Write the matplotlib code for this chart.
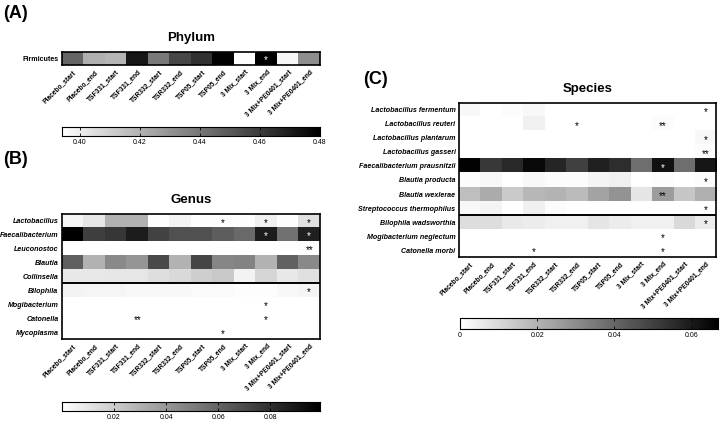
import numpy as np
import matplotlib
matplotlib.use('Agg')
import matplotlib.pyplot as plt
from matplotlib.colors import LinearSegmentedColormap

plt.rcParams['font.family'] = ['Liberation Sans', 'DejaVu Sans']

# ====================================================================
# data
samples = ['Placebo_start', 'Placebo_end', 'TSF331_start', 'TSF331_end',
           'TSR332_start', 'TSR332_end', 'TSP05_start', 'TSP05_end',
           '3 Mix_start', '3 Mix_end', '3 Mix+PE0401_start', '3 Mix+PE0401_end']

phylum_names = ['Firmicutes']
phylum_vals = [[0.446, 0.421, 0.419, 0.472, 0.439, 0.456, 0.463, 0.479,
                0.395, 0.480, 0.397, 0.432]]
phylum_stars = [['', '', '', '', '', '', '', '', '', '*', '', '']]

genus_names = ['Lactobacillus', 'Faecalibacterium', 'Leuconostoc', 'Blautia',
               'Collinsella', 'Bilophila', 'Mogibacterium', 'Catonella', 'Mycoplasma']
genus_vals = [
    [0.004, 0.010, 0.030, 0.030, 0.001, 0.005, 0.001, 0.001, 0.001, 0.006, 0.001, 0.012],
    [0.099, 0.075, 0.078, 0.088, 0.073, 0.068, 0.068, 0.063, 0.058, 0.088, 0.055, 0.086],
    [0.000, 0.000, 0.000, 0.000, 0.000, 0.000, 0.000, 0.000, 0.000, 0.000, 0.000, 0.001],
    [0.062, 0.030, 0.046, 0.041, 0.070, 0.030, 0.072, 0.047, 0.048, 0.030, 0.061, 0.046],
    [0.009, 0.009, 0.010, 0.010, 0.013, 0.015, 0.019, 0.021, 0.005, 0.016, 0.009, 0.012],
    [0.005, 0.004, 0.004, 0.003, 0.003, 0.003, 0.002, 0.002, 0.001, 0.001, 0.003, 0.004],
    [0.000, 0.000, 0.000, 0.000, 0.000, 0.000, 0.000, 0.000, 0.000, 0.000, 0.000, 0.000],
    [0.000, 0.000, 0.000, 0.000, 0.000, 0.000, 0.000, 0.000, 0.000, 0.000, 0.000, 0.000],
    [0.000, 0.000, 0.000, 0.000, 0.000, 0.000, 0.000, 0.000, 0.000, 0.000, 0.000, 0.000],
]
genus_stars = [
    ['', '', '', '', '', '', '', '*', '', '*', '', '*'],
    ['', '', '', '', '', '', '', '', '', '*', '', '*'],
    ['', '', '', '', '', '', '', '', '', '', '', '**'],
    ['', '', '', '', '', '', '', '', '', '', '', ''],
    ['', '', '', '', '', '', '', '', '', '', '', ''],
    ['', '', '', '', '', '', '', '', '', '', '', '*'],
    ['', '', '', '', '', '', '', '', '', '*', '', ''],
    ['', '', '', '**', '', '', '', '', '', '*', '', ''],
    ['', '', '', '', '', '', '', '*', '', '', '', ''],
]

species_names = ['Lactobacillus fermentum', 'Lactobacillus reuteri',
                 'Lactobacillus plantarum', 'Lactobacillus gasseri',
                 'Faecalibacterium prausnitzii', 'Blautia producta',
                 'Blautia wexlerae', 'Streptococcus thermophilus',
                 'Bilophila wadsworthia', 'Mogibacterium neglectum', 'Catonella morbi']
species_vals = [
    [0.002, 0.000, 0.001, 0.002, 0.000, 0.000, 0.000, 0.000, 0.000, 0.000, 0.000, 0.000],
    [0.000, 0.000, 0.000, 0.004, 0.000, 0.000, 0.000, 0.000, 0.000, 0.001, 0.000, 0.000],
    [0.000, 0.000, 0.000, 0.000, 0.000, 0.000, 0.000, 0.000, 0.000, 0.000, 0.000, 0.002],
    [0.000, 0.000, 0.000, 0.000, 0.000, 0.000, 0.000, 0.000, 0.000, 0.000, 0.000, 0.001],
    [0.066, 0.052, 0.056, 0.064, 0.057, 0.050, 0.058, 0.055, 0.038, 0.062, 0.038, 0.061],
    [0.001, 0.002, 0.000, 0.002, 0.001, 0.001, 0.003, 0.004, 0.000, 0.001, 0.000, 0.001],
    [0.017, 0.022, 0.014, 0.019, 0.020, 0.018, 0.024, 0.028, 0.007, 0.026, 0.015, 0.021],
    [0.002, 0.003, 0.000, 0.004, 0.001, 0.000, 0.000, 0.000, 0.000, 0.000, 0.000, 0.000],
    [0.009, 0.009, 0.006, 0.005, 0.004, 0.004, 0.007, 0.005, 0.004, 0.004, 0.010, 0.005],
    [0.000, 0.000, 0.000, 0.000, 0.000, 0.000, 0.000, 0.000, 0.000, 0.000, 0.000, 0.000],
    [0.000, 0.000, 0.000, 0.000, 0.000, 0.000, 0.000, 0.000, 0.000, 0.000, 0.000, 0.000],
]
species_stars = [
    ['', '', '', '', '', '', '', '', '', '', '', '*'],
    ['', '', '', '', '', '*', '', '', '', '**', '', ''],
    ['', '', '', '', '', '', '', '', '', '', '', '*'],
    ['', '', '', '', '', '', '', '', '', '', '', '**'],
    ['', '', '', '', '', '', '', '', '', '*', '', ''],
    ['', '', '', '', '', '', '', '', '', '', '', '*'],
    ['', '', '', '', '', '', '', '', '', '**', '', ''],
    ['', '', '', '', '', '', '', '', '', '', '', '*'],
    ['', '', '', '', '', '', '', '', '', '', '', '*'],
    ['', '', '', '', '', '', '', '', '', '*', '', ''],
    ['', '', '', '*', '', '', '', '', '', '*', '', ''],
]
# ====================================================================

W, H = 720, 423
fig = plt.figure(figsize=(W / 100, H / 100), dpi=100)
cmap = LinearSegmentedColormap.from_list('wk', ['#ffffff', '#000000'])


def box(x0, y0, x1, y1):
    # pixel box (top-left origin) -> figure fraction
    return [x0 / W, 1 - y1 / H, (x1 - x0) / W, (y1 - y0) / H]


def heatmap(rect, vals, names, stars, vmin, vmax, title, split=None, italic=True):
    ax = fig.add_axes(box(*rect))
    data = np.array(vals)
    ax.imshow(data, cmap=cmap, vmin=vmin, vmax=vmax, aspect='auto',
              interpolation='nearest')
    nr, nc = data.shape
    for i in range(nr):
        for j in range(nc):
            if stars[i][j]:
                frac = (data[i, j] - vmin) / (vmax - vmin)
                c = 'white' if frac > 0.7 else 'black'
                ax.text(j, i + 0.12, stars[i][j], ha='center', va='center',
                        fontsize=7, color=c)
    if split is not None:
        ax.axhline(split - 0.5, color='black', lw=1.4)
    ax.set_xticks(range(nc))
    ax.set_xticklabels(samples, rotation=45, ha='right', rotation_mode='anchor',
                       fontsize=4.8, fontweight='bold')
    ax.set_yticks(range(nr))
    ax.set_yticklabels(names, fontsize=5.1, fontweight='bold',
                       fontstyle='italic' if italic else 'normal')
    ax.tick_params(length=0, pad=2.5)
    for s in ax.spines.values():
        s.set_linewidth(1.2)
    ax.set_title(title, fontsize=9.5, fontweight='bold', pad=8)
    return ax


def colorbar(rect, vmin, vmax, ticks, labels):
    cax = fig.add_axes(box(*rect))
    grad = np.linspace(vmin, vmax, 256).reshape(1, -1)
    cax.imshow(grad, cmap=cmap, vmin=vmin, vmax=vmax, aspect='auto',
               extent=[vmin, vmax, 0, 1])
    cax.set_xlim(vmin, vmax)
    cax.set_yticks([])
    cax.set_xticks(ticks)
    cax.set_xticklabels(labels, fontsize=5)
    cax.tick_params(axis='x', direction='in', length=2.5, width=0.6, pad=2.5,
                    top=True)
    for s in cax.spines.values():
        s.set_linewidth(0.8)


# (A) phylum
heatmap((62, 52, 320, 65), phylum_vals, phylum_names, phylum_stars,
        0.394, 0.480, 'Phylum', italic=False)
colorbar((62, 127, 320, 136), 0.394, 0.480,
         [0.40, 0.42, 0.44, 0.46, 0.48], ['0.40', '0.42', '0.44', '0.46', '0.48'])

# (B) genus
heatmap((62, 214, 320, 339), genus_vals, genus_names, genus_stars,
        0.0, 0.099, 'Genus', split=5)
colorbar((62, 402, 320, 411), 0.0, 0.099,
         [0.02, 0.04, 0.06, 0.08], ['0.02', '0.04', '0.06', '0.08'])

# (C) species
heatmap((459, 103, 716, 257), species_vals, species_names, species_stars,
        0.0, 0.0668, 'Species', split=8)
colorbar((460, 318, 718, 329), 0.0, 0.0668,
         [0, 0.02, 0.04, 0.06], ['0', '0.02', '0.04', '0.06'])

fig.text(3 / W, 1 - 14 / H, '(A)', fontsize=13, fontweight='bold', va='center')
fig.text(3 / W, 1 - 160 / H, '(B)', fontsize=13, fontweight='bold', va='center')
fig.text(363 / W, 1 - 79 / H, '(C)', fontsize=13, fontweight='bold', va='center')

fig.savefig('out.png', dpi=100)
